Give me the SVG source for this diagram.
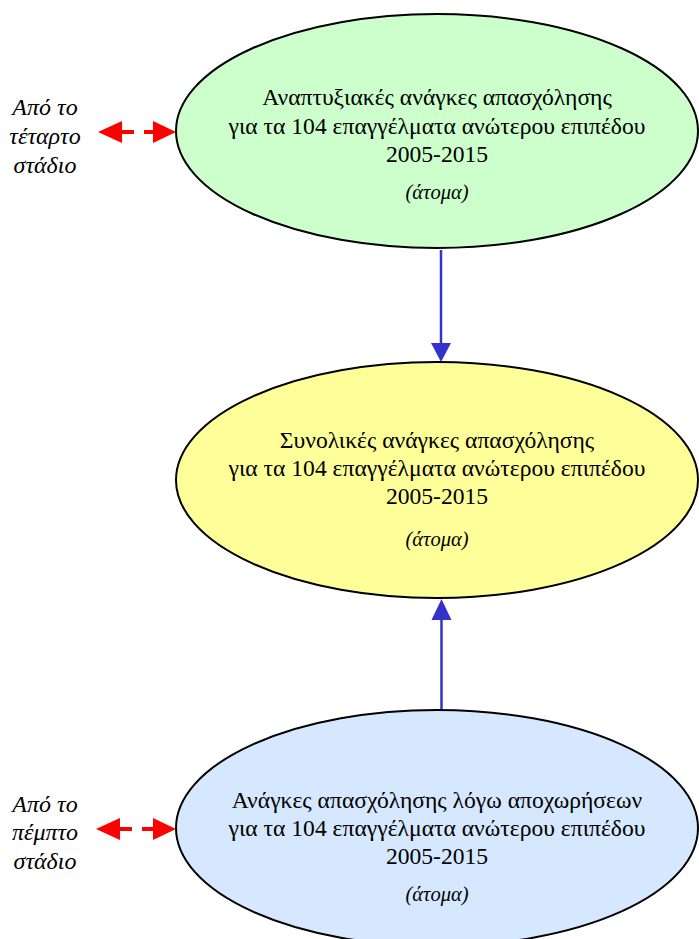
<svg xmlns="http://www.w3.org/2000/svg" width="699" height="939" viewBox="0 0 699 939">
<defs>
<style>
.n{stroke:#000;stroke-width:2}
.t{font-family:"Liberation Serif","Times New Roman",serif;font-size:23.6px;fill:#000;text-anchor:middle}
.i{font-family:"Liberation Serif","Times New Roman",serif;font-size:20.5px;font-style:italic;fill:#000;text-anchor:middle}
.l{font-family:"Liberation Serif","Times New Roman",serif;font-size:24px;font-style:italic;fill:#000;text-anchor:middle}
.b{stroke:#3333CC;stroke-width:2.5;fill:none}
.r{stroke:#FF0000;stroke-width:4;fill:none}
</style>
</defs>
<g id="connectors">
<line class="b" x1="441" y1="250" x2="441" y2="345"/>
<path d="M431,343 L451,343 L441,362 Z" fill="#3333CC"/>
<line class="b" x1="441.5" y1="710" x2="441.5" y2="618"/>
<path d="M431.5,620 L451.5,620 L441.5,599 Z" fill="#3333CC"/>
<g id="red-top">
<path d="M98,132 L122,121 L122,143 Z" fill="#FF0000"/>
<line class="r" x1="120" y1="132" x2="134" y2="132"/>
<line class="r" x1="144" y1="132" x2="156" y2="132"/>
<path d="M176,132 L153,121 L153,143 Z" fill="#FF0000"/>
</g>
<g id="red-bottom">
<path d="M96,829 L120,818 L120,840 Z" fill="#FF0000"/>
<line class="r" x1="118" y1="829" x2="132" y2="829"/>
<line class="r" x1="142" y1="829" x2="156" y2="829"/>
<path d="M176,829 L153,818 L153,840 Z" fill="#FF0000"/>
</g>
</g>
<g id="node-top">
<ellipse class="n" cx="437" cy="131" rx="261" ry="117" fill="#CCFFCC"/>
<text class="t" x="437" y="105">Αναπτυξιακές ανάγκες απασχόλησης</text>
<text class="t" x="437" y="134">για τα 104 επαγγέλματα ανώτερου επιπέδου</text>
<text class="t" x="437" y="162">2005-2015</text>
<text class="i" x="437" y="199">(άτομα)</text>
</g>
<g id="node-middle">
<ellipse class="n" cx="437" cy="480" rx="261" ry="118" fill="#FFFF99"/>
<text class="t" x="437" y="448">Συνολικές ανάγκες απασχόλησης</text>
<text class="t" x="437" y="476">για τα 104 επαγγέλματα ανώτερου επιπέδου</text>
<text class="t" x="437" y="504">2005-2015</text>
<text class="i" x="437" y="546">(άτομα)</text>
</g>
<g id="node-bottom">
<ellipse class="n" cx="437" cy="828" rx="261" ry="118" fill="#D5E8FF"/>
<text class="t" x="437" y="808">Ανάγκες απασχόλησης λόγω αποχωρήσεων</text>
<text class="t" x="437" y="836">για τα 104 επαγγέλματα ανώτερου επιπέδου</text>
<text class="t" x="437" y="864">2005-2015</text>
<text class="i" x="437" y="901">(άτομα)</text>
</g>
<g id="label-top">
<text class="l" x="45" y="115">Από το</text>
<text class="l" x="45" y="144">τέταρτο</text>
<text class="l" x="45" y="173">στάδιο</text>
</g>
<g id="label-bottom">
<text class="l" x="45" y="812">Από το</text>
<text class="l" x="45" y="840">πέμπτο</text>
<text class="l" x="45" y="869">στάδιο</text>
</g>
</svg>
